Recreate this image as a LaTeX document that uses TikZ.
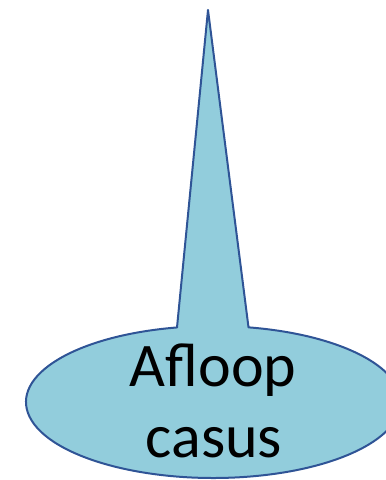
\documentclass[tikz,border=0pt]{standalone}
\usepackage{fontspec}
\setmainfont{Carlito}
\definecolor{calloutfill}{RGB}{146,205,220}
\definecolor{calloutline}{RGB}{47,84,150}
\begin{document}
\begin{tikzpicture}[x=1pt,y=1pt,
  callout/.style={fill=calloutfill,draw=calloutline,line width=2pt,line join=round},
  bigtext/.style={anchor=base,inner sep=0pt,font=\fontsize{62}{71}\selectfont}]
\useasboundingbox (0,0) rectangle (386,480);
\clip (0,0) rectangle (386,480);
\coordinate (tip) at (208,470);
\draw[callout] (213.4,78) ++(101.2:187.4 and 76) arc[start angle=101.2,end angle=439.2,x radius=187.4,y radius=76] -- (tip) -- cycle;
\node[bigtext] (l1) at (213,93) {Afloop};
\node[bigtext] (l2) at (214,22) {casus};
\end{tikzpicture}
\end{document}
